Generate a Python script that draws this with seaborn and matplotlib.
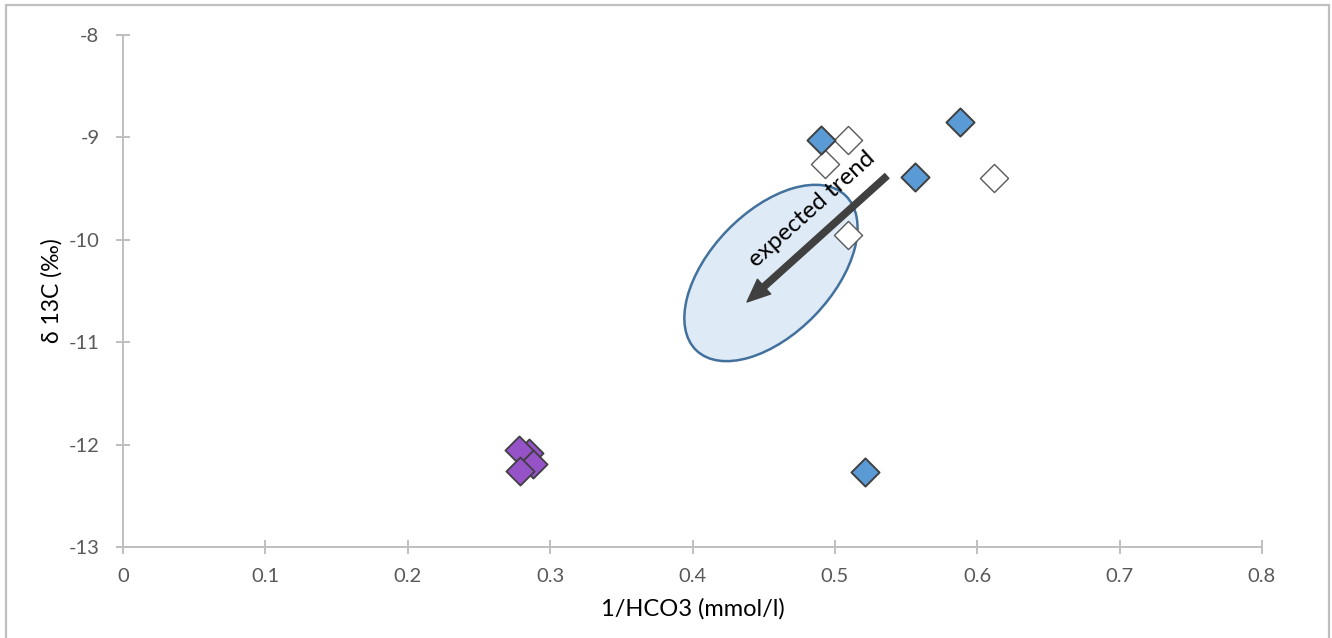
import numpy as np
import pandas as pd
import matplotlib
matplotlib.use("Agg")
import matplotlib.pyplot as plt
import matplotlib.transforms as mtransforms
from matplotlib.patches import Ellipse
from matplotlib.lines import Line2D
import seaborn as sns

# --- data -------------------------------------------------------------
blue_x = [0.490, 0.588, 0.556, 0.521]
blue_y = [-9.03, -8.85, -9.39, -12.27]

open_x = [0.509, 0.493, 0.612, 0.509]
open_y = [-9.03, -9.26, -9.40, -9.95]

purple_x = [0.285, 0.288, 0.278, 0.279]
purple_y = [-12.08, -12.19, -12.05, -12.26]

x_ticks = [0, 0.1, 0.2, 0.3, 0.4, 0.5, 0.6, 0.7, 0.8]
x_tick_labels = ["0", "0.1", "0.2", "0.3", "0.4", "0.5", "0.6", "0.7", "0.8"]
y_ticks = [-8, -9, -10, -11, -12, -13]
y_tick_labels = ["-8", "-9", "-10", "-11", "-12", "-13"]

x_label = "1/HCO3 (mmol/l)"
y_label = "δ 13C (‰)"
trend_label = "expected trend"

# trend arrow (start -> end) and highlighted zone centre, in data units
trend_start = (0.5365, -9.377)
trend_end = (0.4383, -10.607)
zone_centre = (0.4551, -10.324)
trend_text_pos = (0.4839, -9.699)

# --- style ------------------------------------------------------------
sns.set_style("white")
plt.rcParams["font.family"] = ["Lato", "DejaVu Sans"]

AXIS_GREY = "#BFBFBF"
TICK_TEXT = "#595959"

fig = plt.figure(figsize=(13.32, 6.38), dpi=100)
ax = fig.add_axes([123 / 1332, 1 - 547 / 638, 1139 / 1332, 512 / 638])

frames = [
    ("open", open_x, open_y, "white", "#595959", 1.0),
    ("purple", purple_x, purple_y, "#9553C7", "#404040", 1.3),
    ("blue", blue_x, blue_y, "#5B9BD5", "#404040", 1.4),
]
for name, xs, ys, face, edge, lw in frames:
    df = pd.DataFrame({"x": xs, "y": ys})
    sns.scatterplot(data=df, x="x", y="y", ax=ax, marker="D", s=205,
                    color=face, edgecolor=edge, linewidth=lw, zorder=4,
                    legend=False)

ax.set_xlim(0, 0.8)
ax.set_ylim(-13, -8)
ax.set_xticks(x_ticks)
ax.set_xticklabels(x_tick_labels)
ax.set_yticks(y_ticks)
ax.set_yticklabels(y_tick_labels)

for side in ("top", "right"):
    ax.spines[side].set_visible(False)
for side in ("left", "bottom"):
    ax.spines[side].set_color(AXIS_GREY)
    ax.spines[side].set_linewidth(1.4)

ax.tick_params(axis="both", which="major", direction="inout", length=10,
               width=1.4, color=AXIS_GREY, labelcolor=TICK_TEXT,
               labelsize=14.5, left=True, bottom=True)
ax.tick_params(axis="y", pad=12)
ax.tick_params(axis="x", pad=10)

ax.set_xlabel(x_label, fontsize=17, color="#000000")
ax.set_ylabel(y_label, fontsize=16.5, color="#000000")
ax.xaxis.set_label_coords(0.5, -(609 - 547) / 512)
ax.xaxis.label.set_verticalalignment("center")
ax.yaxis.set_label_coords(-(123 - 52) / 1139, 0.5)
ax.yaxis.label.set_verticalalignment("center")

# highlighted zone: ellipse sized in inches, anchored at a data point
zone_trans = fig.dpi_scale_trans + mtransforms.ScaledTranslation(
    zone_centre[0], zone_centre[1], ax.transData)
zone = Ellipse((0, 0), width=2.15, height=1.22, angle=46,
               transform=zone_trans, facecolor="#DEEAF6",
               edgecolor="#41719C", linewidth=1.8, zorder=2)
ax.add_patch(zone)

# trend arrow
ax.annotate("", xy=trend_end, xytext=trend_start, xycoords="data",
            textcoords="data", zorder=5,
            arrowprops=dict(arrowstyle="simple,head_length=1.1,head_width=0.95,tail_width=0.3",
                            mutation_scale=15, color="#404040",
                            shrinkA=0, shrinkB=0))

ax.text(trend_text_pos[0], trend_text_pos[1], trend_label, fontsize=17.5,
        rotation=42, rotation_mode="anchor", ha="center", va="center",
        color="#000000", zorder=6)

# light grey chart frame
frame_kw = dict(color=AXIS_GREY, linewidth=1.6, transform=fig.transFigure)
l, r, t = 6 / 1332, 1329 / 1332, 1 - 5 / 638
fig.add_artist(Line2D([l, r], [t, t], **frame_kw))
fig.add_artist(Line2D([l, l], [t, -0.01], **frame_kw))
fig.add_artist(Line2D([r, r], [t, -0.01], **frame_kw))

fig.savefig("out.png", dpi=100)
